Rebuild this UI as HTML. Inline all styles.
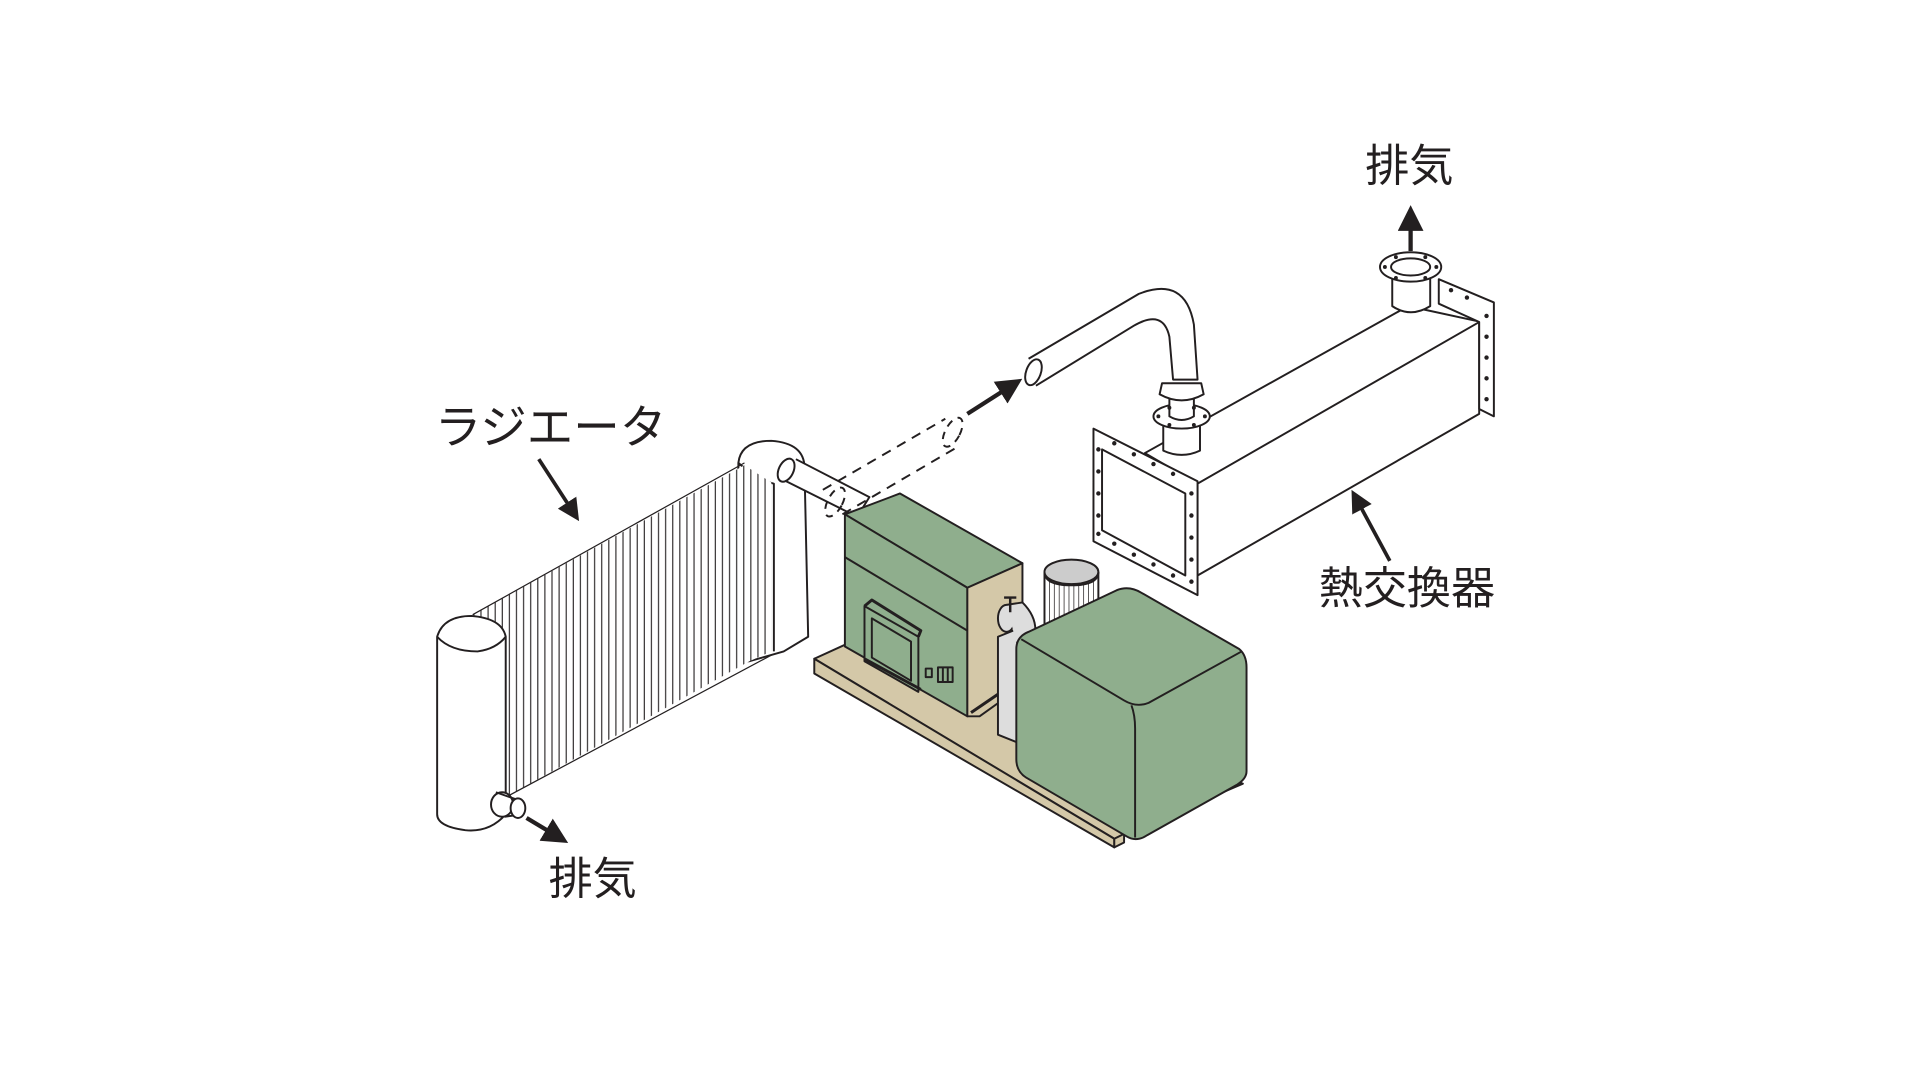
<!DOCTYPE html>
<html><head><meta charset="utf-8"><style>
html,body{margin:0;padding:0;background:#fff;width:1920px;height:1080px;overflow:hidden}
svg{display:block}
text{font-family:"Liberation Sans","Noto Sans CJK JP",sans-serif;fill:#231f20}
</style></head><body>
<svg width="1920" height="1080" viewBox="0 0 1568 882" xmlns="http://www.w3.org/2000/svg">
<defs>
<pattern id="fins" width="5.8" height="10" patternUnits="userSpaceOnUse" x="386">
<rect width="5.8" height="10" fill="#fff"/>
<line x1="1" y1="0" x2="1" y2="10" stroke="#231f20" stroke-width="0.9"/>
</pattern>
<marker id="ah" markerWidth="6" markerHeight="6" refX="3" refY="3" orient="auto" markerUnits="strokeWidth">
<path d="M0,0 L6,3 L0,6 Z" fill="#231f20"/>
</marker>
</defs>
<g stroke="#231f20" stroke-width="1.6" fill="none" stroke-linejoin="round">

<text x="355" y="362" font-size="38" stroke="none">ラジエータ</text>
<text x="448" y="730" font-size="36" stroke="none">排気</text>
<text x="1115" y="148" font-size="36" stroke="none">排気</text>
<text x="1077" y="493" font-size="36" stroke="none">熱交換器</text>

<line x1="440" y1="375" x2="468" y2="418" stroke-width="3" marker-end="url(#ah)"/>
<line x1="430" y1="668" x2="455" y2="683" stroke-width="3.5" marker-end="url(#ah)"/>
<line x1="790" y1="338" x2="826" y2="315" stroke-width="3.5" marker-end="url(#ah)"/>
<line x1="1152" y1="205" x2="1152" y2="178" stroke-width="3.5" marker-end="url(#ah)"/>
<line x1="1135" y1="458" x2="1108" y2="408" stroke-width="3" marker-end="url(#ah)"/>

<!-- radiator right header -->
<path d="M603,378 Q605,360 630,360 Q657,362 657,382 L660,520 L640,532 L612,540 L603,540 Z" fill="#fff"/>
<path d="M603,378 Q618,392 632,395 L632,532"/>
<!-- fins -->
<polygon points="386,502 608,380 630,394 630,532 612,540 415,650 412,520" fill="url(#fins)" stroke="none"/>
<path d="M386,502 L608,378" stroke-width="1"/>
<path d="M415,650 L630,535" stroke-width="1"/>
<!-- left header -->
<path d="M357,520 Q362,503 385,503 Q410,505 413,520 L413,665 Q400,680 380,678 Q357,675 357,665 Z" fill="#fff"/>
<path d="M357,520 Q368,532 390,532 Q405,530 413,520"/>
<!-- outlet stub -->
<ellipse cx="410" cy="657" rx="9" ry="10" fill="#fff"/>
<path d="M405,647 L422,653 M412,667 L427,665"/>
<ellipse cx="423" cy="660" rx="6" ry="8" fill="#fff"/>

<!-- pipe from radiator -->
<path d="M640,392 L700,422 L710,406 L650,375" fill="#fff"/>
<ellipse cx="642" cy="384" rx="6" ry="10" transform="rotate(25 642 384)" fill="#fff"/>
<path d="M672,400 L772,342 M688,420 L782,365" stroke-dasharray="8,6"/>
<ellipse cx="778" cy="353" rx="6" ry="13" transform="rotate(28 778 353)" stroke-dasharray="6,5"/>
<ellipse cx="682" cy="410" rx="6" ry="13" transform="rotate(28 682 410)" stroke-dasharray="6,5"/>

<!-- pipe to heat exchanger -->
<path d="M846,315 L926,266 Q950,252 955,275 L958,310 L978,310 L975,265 Q968,225 930,240 L840,293" fill="#fff"/>
<ellipse cx="844" cy="304" rx="6" ry="11" transform="rotate(20 844 304)" fill="#fff"/>

<!-- heat exchanger -->
<polygon points="935,370 1150,250 1210,263 978,395" fill="#fff"/>
<polygon points="978,395 1208,263 1208,338 978,470" fill="#fff"/>
<path d="M1175,228 L1220,247 L1220,340 L1208,334 L1208,263 L1175,248 Z" fill="#fff"/>
<g fill="#231f20" stroke="none">
<circle cx="1214" cy="258" r="1.8"/><circle cx="1214" cy="275" r="1.8"/><circle cx="1214" cy="292" r="1.8"/><circle cx="1214" cy="309" r="1.8"/><circle cx="1214" cy="326" r="1.8"/>
<circle cx="1185" cy="237" r="1.8"/><circle cx="1198" cy="243" r="1.8"/>
</g>
<polygon points="893,350 978,393 978,486 893,442" fill="#fff"/>
<polygon points="900,367 968,403 968,470 900,433" fill="#fff"/>
<g fill="#231f20" stroke="none">
<circle cx="897" cy="367" r="1.8"/><circle cx="897" cy="385" r="1.8"/><circle cx="897" cy="403" r="1.8"/><circle cx="897" cy="421" r="1.8"/><circle cx="897" cy="436" r="1.8"/>
<circle cx="973" cy="403" r="1.8"/><circle cx="973" cy="421" r="1.8"/><circle cx="973" cy="439" r="1.8"/><circle cx="973" cy="457" r="1.8"/><circle cx="973" cy="475" r="1.8"/>
<circle cx="910" cy="362" r="1.8"/><circle cx="926" cy="371" r="1.8"/><circle cx="942" cy="379" r="1.8"/><circle cx="958" cy="387" r="1.8"/>
<circle cx="910" cy="444" r="1.8"/><circle cx="926" cy="453" r="1.8"/><circle cx="942" cy="461" r="1.8"/><circle cx="958" cy="470" r="1.8"/>
</g>
<path d="M950,345 L950,368 Q965,375 980,368 L980,345" fill="#fff"/>
<ellipse cx="965" cy="340" rx="23" ry="10" fill="#fff"/>
<path d="M955,322 L955,340 Q965,346 975,340 L975,322" fill="#fff"/>
<path d="M949,313 L981,313 L983,322 Q965,332 947,322 Z" fill="#fff"/>
<g fill="#231f20" stroke="none">
<circle cx="946" cy="340" r="1.6"/><circle cx="984" cy="340" r="1.6"/><circle cx="955" cy="347" r="1.6"/><circle cx="975" cy="347" r="1.6"/><circle cx="955" cy="333" r="1.6"/><circle cx="975" cy="333" r="1.6"/>
</g>
<path d="M1137,220 L1137,250 Q1152,260 1168,250 L1168,220" fill="#fff"/>
<ellipse cx="1152" cy="218" rx="25" ry="12" fill="#fff"/>
<ellipse cx="1152" cy="218" rx="16" ry="7" fill="#fff"/>
<g fill="#231f20" stroke="none">
<circle cx="1131" cy="218" r="1.6"/><circle cx="1173" cy="218" r="1.6"/><circle cx="1140" cy="210" r="1.6"/><circle cx="1164" cy="210" r="1.6"/><circle cx="1140" cy="227" r="1.6"/><circle cx="1164" cy="227" r="1.6"/>
</g>

<!-- skid base -->
<polygon points="665,538 700,522 1015,640 910,685" fill="#d4c8a8"/>
<polygon points="665,538 910,685 910,692 665,550" fill="#d4c8a8"/>
<polygon points="910,685 918,681 918,688 910,692" fill="#d4c8a8"/>

<!-- engine block -->
<polygon points="690,420 735,403 835,460 790,480" fill="#8fae8d"/>
<polygon points="690,420 790,480 790,585 690,528" fill="#8fae8d"/>
<polygon points="790,480 835,460 835,560 800,585 790,585" fill="#d4c8a8"/>
<path d="M690,455 L790,515"/>
<polygon points="706,495 750,520 750,565 706,540" fill="#8fae8d"/>
<polygon points="712,505 744,524 744,556 712,537" fill="#8fae8d"/>
<path d="M706,495 L712,490 L752,515 L750,520 M706,538 L752,563" stroke-width="2.4"/>
<rect x="756" y="546" width="5" height="7" fill="#8fae8d"/>
<rect x="766" y="545" width="12" height="12" fill="#8fae8d"/>
<path d="M770,545 V557 M774,545 V557"/>
<path d="M793,582 L815,567" stroke-width="2.5"/>

<!-- filter -->
<path d="M853,467 L853,520 L897,522 L897,467" fill="#fff"/>
<g stroke-width="0.6"><path d="M857,475 V520 M861,475 V521 M865,475 V521 M869,475 V521 M873,475 V521 M877,475 V521 M881,475 V521 M885,475 V521 M889,475 V521 M893,475 V521"/></g>
<path d="M853,467 Q853,478 875,478 Q897,478 897,467" fill="#ccc"/>
<ellipse cx="875" cy="467" rx="22" ry="10" fill="#ccc"/>

<!-- grey pipes -->
<path d="M815,520 L840,510 L840,610 L815,600 Z" fill="#ddd"/>
<ellipse cx="822" cy="505" rx="7" ry="11" fill="#ddd"/>
<path d="M822,494 L835,492 Q848,505 845,520 L830,525" fill="#ddd"/>
<path d="M825,488 V500 M820,488 L830,488" stroke-width="2"/>

<!-- generator -->
<path d="M830,530 Q830,520 840,516 L912,482 Q922,478 932,484 L1012,530 Q1018,535 1018,545 L1018,630 Q1018,636 1010,641 L937,682 Q928,688 920,683 L838,635 Q830,630 830,620 Z" fill="#8fae8d"/>
<path d="M834,522 L918,572 Q928,578 938,574 L1014,532"/>
<path d="M924,576 Q927,584 927,595 L927,684"/>
</g>
</svg>
</body></html>
